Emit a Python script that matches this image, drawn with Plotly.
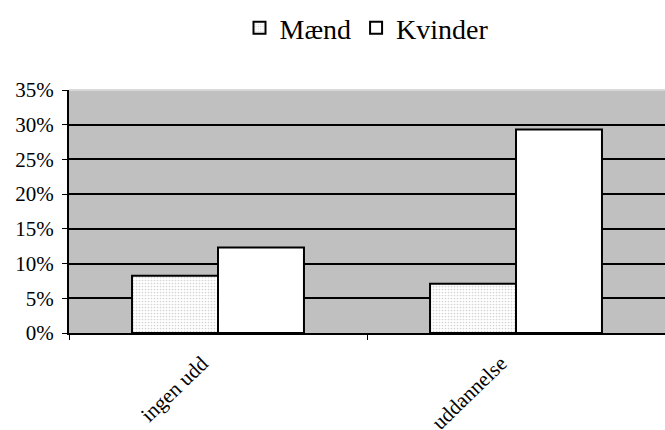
import plotly.graph_objects as go

categories = ["ingen udd", "uddannelse"]
maend = [8.25, 7.1]
kvinder = [12.3, 29.3]
y_ticks = [0, 5, 10, 15, 20, 25, 30, 35]
y_labels = [f"{v}%" for v in y_ticks]

fig = go.Figure()
fig.add_trace(go.Bar(
    name="Mænd", x=categories, y=maend,
    marker=dict(color="white", line=dict(color="black", width=2),
                pattern=dict(shape=".", fgcolor="#a8a8a8", bgcolor="white", size=3, solidity=0.25)),
))
fig.add_trace(go.Bar(
    name="Kvinder", x=categories, y=kvinder,
    marker=dict(color="white", line=dict(color="black", width=2)),
))

font = "Liberation Serif, Times New Roman, serif"
fig.update_layout(
    width=665, height=430,
    margin=dict(l=69, r=0, t=90, b=97, autoexpand=False),
    paper_bgcolor="white", plot_bgcolor="#c0c0c0",
    barmode="group", bargap=0.423, bargroupgap=0,
    font=dict(family=font, color="black", size=20),
    showlegend=True,
    legend=dict(orientation="h", x=0.50, xanchor="center", y=1.255, yanchor="middle",
                font=dict(size=28, family=font), itemwidth=30, traceorder="normal",
                bgcolor="rgba(0,0,0,0)"),
    xaxis=dict(showline=True, linecolor="black", linewidth=2, ticks="outside",
               tickson="boundaries", ticklen=5, tickcolor="black", tickwidth=1,
               showticklabels=False, showgrid=False, automargin=False),
    yaxis=dict(range=[0, 35], tickvals=y_ticks, ticktext=y_labels, showline=True,
               linecolor="black", linewidth=2, ticks="outside", ticklen=5, tickcolor="black",
               showgrid=True, gridcolor="black", gridwidth=2, zeroline=False,
               tickfont=dict(size=21, family=font), automargin=False, ticklabelstandoff=4),
)
for cat in categories:
    fig.add_annotation(x=cat, xref="x", y=-0.065, yref="paper", text=cat, showarrow=False,
                       textangle=-44, xanchor="right", yanchor="top", xshift=-2,
                       font=dict(size=21, family=font, color="black"))
fig.add_shape(type="line", xref="paper", yref="paper", x0=0, x1=1, y0=1, y1=1,
              line=dict(color="#d8d8d8", width=2))
fig.write_html("out.html", config={"displayModeBar": False},
               post_script="document.body.style.margin='0px';document.body.style.overflow='hidden';")
